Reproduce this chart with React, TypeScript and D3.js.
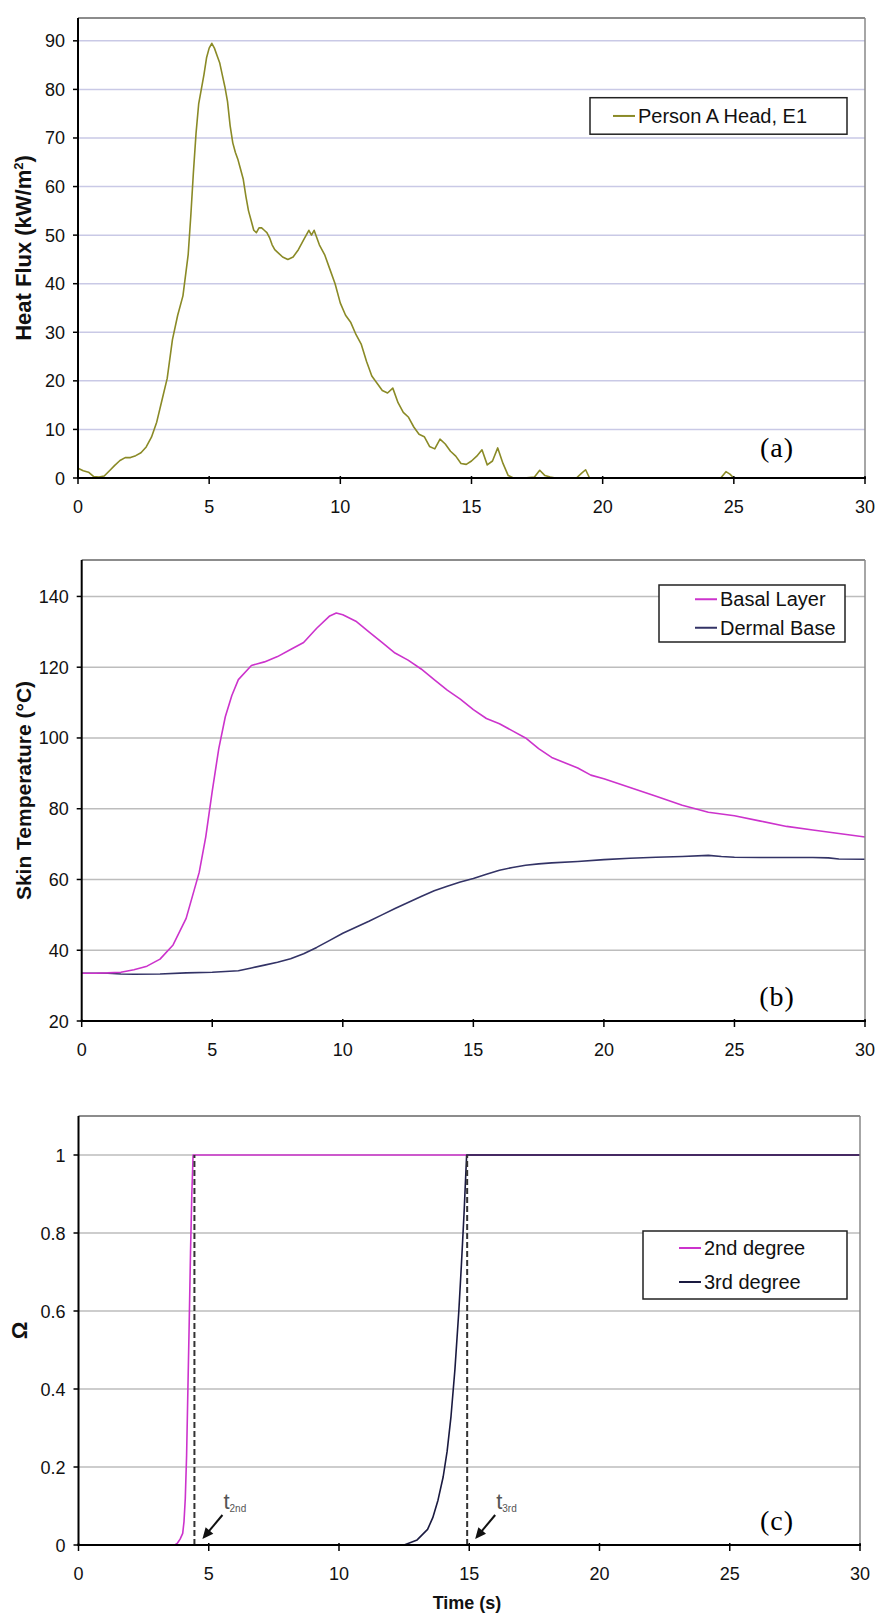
import React from 'react';
import * as d3 from 'd3';

// ---------- Data ----------
const xTicks = [0, 5, 10, 15, 20, 25, 30];

// (a) Heat flux, Person A Head, E1
const heatTime = [0, 0.2, 0.4, 0.6, 0.8, 1.0, 1.2, 1.4, 1.6, 1.8, 2.0, 2.2, 2.4, 2.6, 2.8, 3.0, 3.2, 3.4, 3.6, 3.8, 4.0, 4.2, 4.3, 4.4, 4.5, 4.6, 4.7, 4.8, 4.9, 5.0, 5.1, 5.2, 5.3, 5.4, 5.5, 5.6, 5.7, 5.8, 5.9, 6.0, 6.1, 6.2, 6.3, 6.4, 6.5, 6.6, 6.7, 6.8, 6.9, 7.0, 7.1, 7.2, 7.3, 7.4, 7.5, 7.6, 7.8, 8.0, 8.2, 8.4, 8.6, 8.8, 8.9, 9.0, 9.1, 9.2, 9.4, 9.6, 9.8, 10.0, 10.2, 10.4, 10.6, 10.8, 11.0, 11.2, 11.4, 11.6, 11.8, 12.0, 12.2, 12.4, 12.6, 12.8, 13.0, 13.2, 13.4, 13.6, 13.8, 14.0, 14.2, 14.4, 14.6, 14.8, 15.0, 15.2, 15.4, 15.6, 15.8, 16.0, 16.2, 16.4, 16.6, 17.0, 17.4, 17.6, 17.8, 18.0, 18.2, 19.0, 19.2, 19.35, 19.5, 20, 24.5, 24.7, 24.85, 25.0, 30];
const heatFlux = [2.0, 1.5, 1.2, 0.3, 0.2, 0.4, 1.5, 2.6, 3.6, 4.2, 4.2, 4.6, 5.2, 6.4, 8.4, 11.5, 16, 20.5, 28.5, 33.5, 37.5, 46, 54, 63, 71, 77, 80, 83, 86.5, 88.5, 89.5, 88.5, 87, 85.5, 83, 80.5, 77.5, 72.5, 69, 67, 65.5, 63.5, 61.5, 58, 55, 53, 51, 50.5, 51.5, 51.5, 51, 50.5, 49.5, 48, 47, 46.5, 45.5, 45, 45.5, 47, 49, 51, 50, 51, 49.5, 48, 46, 43, 40, 36, 33.5, 32, 29.5, 27.5, 24, 21, 19.5, 18, 17.5, 18.5, 15.5, 13.5, 12.5, 10.5, 9, 8.5, 6.5, 6, 8, 7, 5.5, 4.5, 3, 2.8, 3.5, 4.5, 5.8, 2.7, 3.5, 6.2, 3, 0.5, 0, 0, 0.2, 1.6, 0.5, 0.2, 0, 0, 1.0, 1.7, 0, 0, 0, 1.3, 0.8, 0, 0];
const heatTicksY = [0, 10, 20, 30, 40, 50, 60, 70, 80, 90];

// (b) Skin temperature
const basalTime = [0, 0.5, 1, 1.5, 2, 2.5, 3, 3.5, 4, 4.5, 4.75, 5, 5.25, 5.5, 5.75, 6, 6.5, 7, 7.5, 8, 8.5, 9, 9.5, 9.75, 10, 10.5, 11, 11.5, 12, 12.5, 13, 13.5, 14, 14.5, 15, 15.5, 16, 16.5, 17, 17.5, 18, 18.5, 19, 19.5, 20, 21, 22, 23, 24, 25, 26, 27, 28, 29, 30];
const basalTemp = [33.5, 33.5, 33.6, 33.8, 34.5, 35.5, 37.5, 41.5, 49, 62, 72, 85, 97, 106, 112, 116.5, 120.5, 121.5, 123, 125, 127, 131, 134.5, 135.3, 134.8, 133, 130, 127, 124, 122, 119.5, 116.5, 113.5, 111, 108, 105.5, 104, 102, 100, 97, 94.5, 93, 91.5, 89.5, 88.5, 86, 83.5, 81, 79, 78, 76.5, 75, 74, 73, 72];
const dermalTime = [0, 1, 1.5, 2, 3, 4, 5, 6, 6.5, 7, 7.5, 8, 8.5, 9, 9.5, 10, 10.5, 11, 11.5, 12, 12.5, 13, 13.5, 14, 14.5, 15, 15.5, 16, 16.5, 17, 17.5, 18, 19, 20, 21, 22, 23, 24, 24.5, 25, 26, 27, 28, 28.6, 29, 30];
const dermalTemp = [33.5, 33.5, 33.3, 33.2, 33.3, 33.6, 33.8, 34.2, 35, 35.8, 36.6, 37.6, 39, 40.8, 42.8, 44.8, 46.5, 48.2, 50, 51.8, 53.5, 55.2, 56.8, 58.1, 59.3, 60.3, 61.5, 62.6, 63.4, 64, 64.4, 64.7, 65.1, 65.6, 66, 66.3, 66.5, 66.8, 66.5, 66.3, 66.2, 66.2, 66.2, 66.1, 65.8, 65.7];
const tempTicksY = [20, 40, 60, 80, 100, 120, 140];

// (c) Damage integral
const deg2Time = [3.6, 3.7, 3.8, 3.9, 4.0, 4.05, 4.1, 4.15, 4.2, 4.25, 4.3, 4.35, 4.4, 30];
const deg2Omega = [0, 0, 0.005, 0.015, 0.03, 0.06, 0.12, 0.23, 0.4, 0.57, 0.75, 0.9, 1.0, 1.0];
const deg3Time = [11.3, 12.5, 13.0, 13.4, 13.6, 13.8, 14.0, 14.15, 14.3, 14.45, 14.6, 14.7, 14.8, 14.9, 30];
const deg3Omega = [0, 0, 0.013, 0.04, 0.07, 0.115, 0.175, 0.24, 0.33, 0.45, 0.6, 0.72, 0.85, 1.0, 1.0];
const omegaTicksY = [0, 0.2, 0.4, 0.6, 0.8, 1];
const burnTimes = [4.45, 14.92];
const burnLabels = ['2nd', '3rd'];

// ---------- Styling ----------
const SANS = 'Liberation Sans, Arial, sans-serif';
const SERIF = 'Liberation Serif, Times New Roman, serif';

type Series = { t: number[]; v: number[]; color: string; width: number };

function Panel(props: {
  left: number; right: number; top: number; bottom: number;
  yDomain: [number, number]; yTicks: number[]; yFmt: (d: number) => string;
  gridColor: string; series: Series[];
  yTitle: React.ReactNode; yTitleX: number; yTitleSize: number;
  legend: { label: string; color: string }[];
  legendBox: { x: number; y: number; w: number; h: number };
  tag: string; tagX: number; tagY: number;
  children?: (x: d3.ScaleLinear<number, number>, y: d3.ScaleLinear<number, number>) => React.ReactNode;
}) {
  const { left, right, top, bottom } = props;
  const x = d3.scaleLinear().domain([0, 30]).range([left, right]);
  const y = d3.scaleLinear().domain(props.yDomain).range([bottom, top]);
  const line = d3.line<[number, number]>().x(d => x(d[0])).y(d => y(d[1]));
  const midY = (top + bottom) / 2;
  const lb = props.legendBox;
  return (
    <g>
      <rect x={left} y={top} width={right - left} height={bottom - top} fill="#ffffff" />
      {props.yTicks.filter(t => y(t) > top + 1 && y(t) < bottom - 1).map(t => (
        <line key={'g' + t} x1={left} x2={right} y1={y(t)} y2={y(t)} stroke={props.gridColor} strokeWidth={1.5} />
      ))}
      {props.series.map((s, i) => (
        <path key={'s' + i} d={line(s.t.map((tt, j) => [tt, s.v[j]] as [number, number])) || ''}
          fill="none" stroke={s.color} strokeWidth={s.width} strokeLinejoin="round" />
      ))}
      {props.children ? props.children(x, y) : null}
      {/* frame */}
      <line x1={left} x2={right} y1={top} y2={top} stroke="#666" strokeWidth={1.5} />
      <line x1={right} x2={right} y1={top} y2={bottom} stroke="#888" strokeWidth={1.5} />
      {/* axes */}
      <line x1={left} x2={left} y1={top} y2={bottom + 1} stroke="#000" strokeWidth={2} />
      <line x1={left - 1} x2={right + 1} y1={bottom} y2={bottom} stroke="#000" strokeWidth={2} />
      {props.yTicks.map(t => (
        <g key={'yt' + t}>
          <line x1={left - 5} x2={left} y1={y(t)} y2={y(t)} stroke="#000" strokeWidth={1.5} />
          <text x={left - 13} y={y(t) + 6.5} textAnchor="end" fontFamily={SANS} fontSize={18} fill="#111">{props.yFmt(t)}</text>
        </g>
      ))}
      {xTicks.map(t => (
        <g key={'xt' + t}>
          <line x1={x(t)} x2={x(t)} y1={bottom - 2} y2={bottom + 6} stroke="#000" strokeWidth={1.5} />
          <text x={x(t)} y={bottom + 35} textAnchor="middle" fontFamily={SANS} fontSize={18} fill="#111">{t}</text>
        </g>
      ))}
      <text transform={`translate(${props.yTitleX},${midY}) rotate(-90)`} textAnchor="middle"
        fontFamily={SANS} fontWeight="bold" fontSize={props.yTitleSize} fill="#111">{props.yTitle}</text>
      {/* legend */}
      <rect x={lb.x} y={lb.y} width={lb.w} height={lb.h} fill="#fff" stroke="#222" strokeWidth={1.5} />
      {props.legend.map((it, i) => {
        const n = props.legend.length;
        const cy = lb.y + lb.h * (i + 0.5) / n;
        const lx = lb.x + (n === 1 ? 23 : 36);
        return (
          <g key={'l' + i}>
            <line x1={lx} x2={lx + 22} y1={cy} y2={cy} stroke={it.color} strokeWidth={2} />
            <text x={lx + 25} y={cy + 7} fontFamily={SANS} fontSize={20} fill="#111">{it.label}</text>
          </g>
        );
      })}
      <text x={props.tagX} y={props.tagY} textAnchor="middle" fontFamily={SERIF} fontSize={28} letterSpacing={1} fill="#000">{props.tag}</text>
    </g>
  );
}

export default function App() {
  const cA = '#8a8a26';
  const mag = '#cc33cc';
  const navy = '#333366';
  const dark = '#1a1a40';
  return (
    <svg width={877} height={1614} viewBox="0 0 877 1614"
      style={{ position: 'absolute', left: 0, top: 0, background: '#fff' }}>
      <rect x={0} y={0} width={877} height={1614} fill="#fff" />
      <Panel left={78} right={865} top={18} bottom={478} yDomain={[0, 94.7]} yTicks={heatTicksY}
        yFmt={d => String(d)} gridColor="#c9c9e6"
        series={[{ t: heatTime, v: heatFlux, color: cA, width: 1.6 }]}
        yTitle={<>Heat Flux (kW/m<tspan dy={-8} fontSize={13}>2</tspan><tspan dy={8}>)</tspan></>} yTitleX={31} yTitleSize={22}
        legend={[{ label: 'Person A Head, E1', color: cA }]}
        legendBox={{ x: 590, y: 97.7, w: 257, h: 36.5 }}
        tag="(a)" tagX={777} tagY={457} />
      <Panel left={81.7} right={865} top={560} bottom={1021} yDomain={[20, 150.3]} yTicks={tempTicksY}
        yFmt={d => String(d)} gridColor="#bdbdbd"
        series={[{ t: dermalTime, v: dermalTemp, color: navy, width: 1.6 }, { t: basalTime, v: basalTemp, color: mag, width: 1.6 }]}
        yTitle="Skin Temperature (°C)" yTitleX={31} yTitleSize={21}
        legend={[{ label: 'Basal Layer', color: mag }, { label: 'Dermal Base', color: navy }]}
        legendBox={{ x: 659, y: 585, w: 186, h: 57 }}
        tag="(b)" tagX={777} tagY={1006} />
      <Panel left={78.5} right={860} top={1116} bottom={1545} yDomain={[0, 1.1]} yTicks={omegaTicksY}
        yFmt={d => String(d)} gridColor="#bdbdbd"
        series={[{ t: deg2Time, v: deg2Omega, color: mag, width: 1.6 }, { t: deg3Time, v: deg3Omega, color: dark, width: 1.6 }]}
        yTitle="Ω" yTitleX={27} yTitleSize={22}
        legend={[{ label: '2nd degree', color: mag }, { label: '3rd degree', color: dark }]}
        legendBox={{ x: 643, y: 1231, w: 204, h: 68 }}
        tag="(c)" tagX={777} tagY={1530}>
        {(x, y) => (
          <g>
            {burnTimes.map((tb, i) => {
              const bx = x(tb);
              const ex = bx + 8, ey = y(0) - 6;
              const sx = ex + 20, sy = ey - 24;
              const ang = Math.atan2(ey - sy, ex - sx);
              const hl = 11, hw = 5;
              const p1 = [ex - hl * Math.cos(ang) + hw * Math.sin(ang), ey - hl * Math.sin(ang) - hw * Math.cos(ang)];
              const p2 = [ex - hl * Math.cos(ang) - hw * Math.sin(ang), ey - hl * Math.sin(ang) + hw * Math.cos(ang)];
              return (
                <g key={'b' + i}>
                  <line x1={bx} x2={bx} y1={y(0)} y2={y(1)} stroke="#333" strokeWidth={2} strokeDasharray="6,3" />
                  <line x1={sx} y1={sy} x2={ex - 5 * Math.cos(ang)} y2={ey - 5 * Math.sin(ang)} stroke="#111" strokeWidth={2} />
                  <polygon points={`${ex},${ey} ${p1[0]},${p1[1]} ${p2[0]},${p2[1]}`} fill="#111" />
                  <text x={sx + 1} y={sy - 6} fontFamily={SANS} fontSize={22} fill="#555">t<tspan dy={3} fontSize={10}>{burnLabels[i]}</tspan></text>
                </g>
              );
            })}
          </g>
        )}
      </Panel>
      <text x={467} y={1609} textAnchor="middle" fontFamily={SANS} fontWeight="bold" fontSize={18} fill="#111">Time (s)</text>
    </svg>
  );
}
